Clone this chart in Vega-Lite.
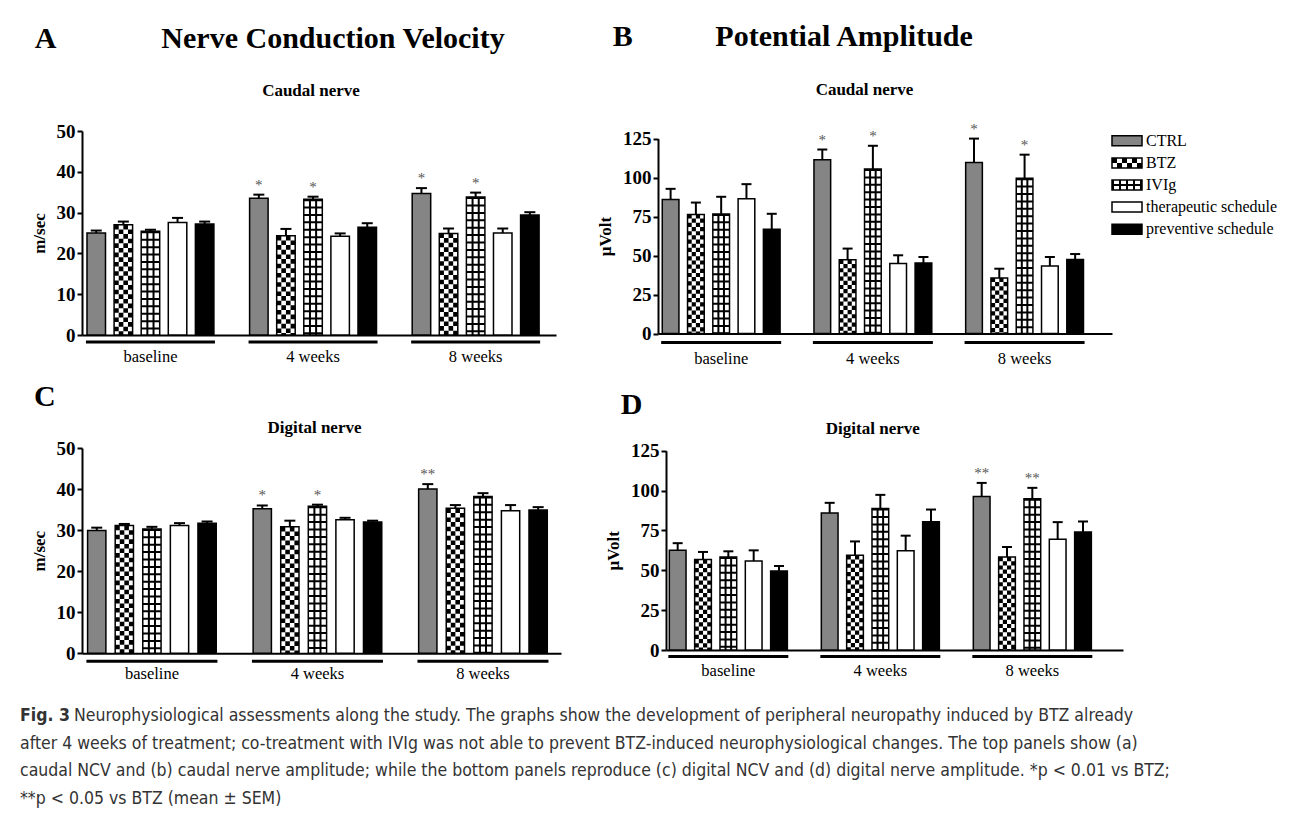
{
  "$schema": "https://vega.github.io/schema/vega-lite/v6.json",
  "background": "white",
  "padding": {"left": 20, "top": 22, "right": 0, "bottom": 0},
  "spacing": 24,
  "vconcat": [
    {
      "spacing": 13,
      "vconcat": [
        {
          "spacing": 40,
          "hconcat": [
            {
              "title": {"text": "A\u00a0\u00a0\u00a0\u00a0\u00a0\u00a0\u00a0\u00a0\u00a0\u00a0\u00a0\u00a0\u00a0\u00a0Nerve Conduction Velocity", "anchor": "start", "frame": "bounds", "dx": 4.7, "offset": 4, "baseline": "alphabetic", "fontSize": 30, "fontWeight": "bold", "font": "Liberation Serif", "color": "black"},
              "vconcat": [
                {
                  "width": 474, "height": 204,
                  "title": {"text": "Caudal nerve", "anchor": "middle", "frame": "group", "dx": -8, "offset": 9.2, "baseline": "alphabetic", "fontSize": 17, "fontWeight": "bold", "font": "Liberation Serif", "color": "black"},
                  "data": {"values": [
                    {"bar": "baseline|CTRL", "group": "CTRL", "mean": 25.0, "hi": 25.6, "sig": ""},
                    {"bar": "baseline|BTZ", "group": "BTZ", "mean": 27.0, "hi": 27.8, "sig": ""},
                    {"bar": "baseline|IVIg", "group": "IVIg", "mean": 25.4, "hi": 25.8, "sig": ""},
                    {"bar": "baseline|ther", "group": "ther", "mean": 27.6, "hi": 28.7, "sig": ""},
                    {"bar": "baseline|prev", "group": "prev", "mean": 27.2, "hi": 27.8, "sig": ""},
                    {"bar": "4 weeks|CTRL", "group": "CTRL", "mean": 33.5, "hi": 34.4, "sig": "*"},
                    {"bar": "4 weeks|BTZ", "group": "BTZ", "mean": 24.3, "hi": 26.0, "sig": ""},
                    {"bar": "4 weeks|IVIg", "group": "IVIg", "mean": 33.3, "hi": 33.9, "sig": "*"},
                    {"bar": "4 weeks|ther", "group": "ther", "mean": 24.2, "hi": 24.9, "sig": ""},
                    {"bar": "4 weeks|prev", "group": "prev", "mean": 26.4, "hi": 27.4, "sig": ""},
                    {"bar": "8 weeks|CTRL", "group": "CTRL", "mean": 34.7, "hi": 36.0, "sig": "*"},
                    {"bar": "8 weeks|BTZ", "group": "BTZ", "mean": 24.9, "hi": 26.1, "sig": ""},
                    {"bar": "8 weeks|IVIg", "group": "IVIg", "mean": 33.8, "hi": 34.9, "sig": "*"},
                    {"bar": "8 weeks|ther", "group": "ther", "mean": 25.0, "hi": 26.1, "sig": ""},
                    {"bar": "8 weeks|prev", "group": "prev", "mean": 29.4, "hi": 30.1, "sig": ""}
                  ]},
                  "encoding": {
                    "x": {"field": "bar", "type": "nominal", "scale": {"domain": ["baseline|CTRL", "baseline|BTZ", "baseline|IVIg", "baseline|ther", "baseline|prev", "gap1", "4 weeks|CTRL", "4 weeks|BTZ", "4 weeks|IVIg", "4 weeks|ther", "4 weeks|prev", "gap2", "8 weeks|CTRL", "8 weeks|BTZ", "8 weeks|IVIg", "8 weeks|ther", "8 weeks|prev"], "paddingInner": 0.317, "paddingOuter": 0.404, "align": 0.228, "round": false}, "axis": {"labels": false, "ticks": false, "title": null}}
                  },
                  "layer": [
                    {"mark": {"type": "bar"}, "encoding": {"y": {"field": "mean", "type": "quantitative", "scale": {"domain": [0, 50], "nice": false}, "axis": {"title": "m/sec", "values": [0, 10, 20, 30, 40, 50]}}, "fill": {"field": "group", "type": "nominal", "scale": {"domain": ["CTRL", "BTZ", "IVIg", "ther", "prev"], "range": ["#858585", "#ffffff", "#ffffff", "#ffffff", "#000000"]}, "legend": null}}},
                    {"transform": [{"filter": "datum.group === 'BTZ'"}], "mark": {"type": "rule", "color": "black", "strokeWidth": 4.63, "strokeDash": [4.63, 4.63], "strokeDashOffset": 0, "xOffset": -6.94}, "encoding": {"y": {"field": "mean", "type": "quantitative"}, "y2": {"datum": 0}}},
                    {"transform": [{"filter": "datum.group === 'BTZ'"}], "mark": {"type": "rule", "color": "black", "strokeWidth": 4.63, "strokeDash": [4.63, 4.63], "strokeDashOffset": 4.63, "xOffset": -2.31}, "encoding": {"y": {"field": "mean", "type": "quantitative"}, "y2": {"datum": 0}}},
                    {"transform": [{"filter": "datum.group === 'BTZ'"}], "mark": {"type": "rule", "color": "black", "strokeWidth": 4.63, "strokeDash": [4.63, 4.63], "strokeDashOffset": 0, "xOffset": 2.31}, "encoding": {"y": {"field": "mean", "type": "quantitative"}, "y2": {"datum": 0}}},
                    {"transform": [{"filter": "datum.group === 'BTZ'"}], "mark": {"type": "rule", "color": "black", "strokeWidth": 4.63, "strokeDash": [4.63, 4.63], "strokeDashOffset": 4.63, "xOffset": 6.94}, "encoding": {"y": {"field": "mean", "type": "quantitative"}, "y2": {"datum": 0}}},
                    {"transform": [{"filter": "datum.group === 'IVIg'"}], "mark": {"type": "rule", "color": "black", "strokeWidth": 18.5, "strokeDash": [2, 5.4]}, "encoding": {"y": {"field": "mean", "type": "quantitative"}, "y2": {"datum": 0}}},
                    {"transform": [{"filter": "datum.group === 'IVIg'"}], "mark": {"type": "rule", "color": "black", "strokeWidth": 2, "xOffset": -3.08}, "encoding": {"y": {"field": "mean", "type": "quantitative"}, "y2": {"datum": 0}}},
                    {"transform": [{"filter": "datum.group === 'IVIg'"}], "mark": {"type": "rule", "color": "black", "strokeWidth": 2, "xOffset": 3.08}, "encoding": {"y": {"field": "mean", "type": "quantitative"}, "y2": {"datum": 0}}},
                    {"mark": {"type": "bar", "fill": "white", "fillOpacity": 0, "stroke": "black", "strokeWidth": 1.5}, "encoding": {"y": {"field": "mean", "type": "quantitative"}}},
                    {"mark": {"type": "rule", "color": "black", "strokeWidth": 2}, "encoding": {"y": {"field": "mean", "type": "quantitative"}, "y2": {"field": "hi"}}},
                    {"mark": {"type": "tick", "color": "black", "opacity": 1, "size": 11, "thickness": 2}, "encoding": {"y": {"field": "hi", "type": "quantitative"}}},
                    {"transform": [{"filter": "datum.sig !== ''"}], "mark": {"type": "text", "baseline": "alphabetic", "dy": -5, "fontSize": 15, "color": "#555555", "fill": "#555555", "font": "Liberation Serif"}, "encoding": {"y": {"field": "hi", "type": "quantitative"}, "text": {"field": "sig"}}},
                    {"data": {"values": [{"bar": "baseline|IVIg", "label": "baseline"}, {"bar": "4 weeks|IVIg", "label": "4 weeks"}, {"bar": "8 weeks|IVIg", "label": "8 weeks"}]}, "mark": {"type": "tick", "color": "black", "opacity": 1, "size": 129, "thickness": 3, "yOffset": 7}, "encoding": {"y": {"datum": 0}}},
                    {"data": {"values": [{"bar": "baseline|IVIg", "label": "baseline"}, {"bar": "4 weeks|IVIg", "label": "4 weeks"}, {"bar": "8 weeks|IVIg", "label": "8 weeks"}]}, "mark": {"type": "text", "yOffset": 22, "baseline": "middle", "fontSize": 16.5, "font": "Liberation Serif", "color": "black", "fill": "black"}, "encoding": {"y": {"datum": 0}, "text": {"field": "label"}}}
                  ]
                }
              ]
            },
            {
              "title": {"text": "B\u00a0\u00a0\u00a0\u00a0\u00a0\u00a0\u00a0\u00a0\u00a0\u00a0\u00a0Potential Amplitude", "anchor": "start", "frame": "bounds", "dx": 16.3, "offset": 5, "baseline": "alphabetic", "fontSize": 30, "fontWeight": "bold", "font": "Liberation Serif", "color": "black"},
              "vconcat": [
                {
                  "spacing": -5,
                  "hconcat": [
                    {
                      "width": 454, "height": 202.6,
                      "title": {"text": "Caudal nerve", "anchor": "middle", "frame": "group", "dx": -20.5, "offset": 9.3, "baseline": "alphabetic", "fontSize": 17, "fontWeight": "bold", "font": "Liberation Serif", "color": "black"},
                      "data": {"values": [
                        {"bar": "baseline|CTRL", "group": "CTRL", "mean": 86.0, "hi": 92.8, "sig": ""},
                        {"bar": "baseline|BTZ", "group": "BTZ", "mean": 76.4, "hi": 84.0, "sig": ""},
                        {"bar": "baseline|IVIg", "group": "IVIg", "mean": 76.7, "hi": 87.7, "sig": ""},
                        {"bar": "baseline|ther", "group": "ther", "mean": 86.5, "hi": 95.8, "sig": ""},
                        {"bar": "baseline|prev", "group": "prev", "mean": 66.9, "hi": 76.8, "sig": ""},
                        {"bar": "4 weeks|CTRL", "group": "CTRL", "mean": 111.5, "hi": 118.0, "sig": "*"},
                        {"bar": "4 weeks|BTZ", "group": "BTZ", "mean": 47.3, "hi": 54.5, "sig": ""},
                        {"bar": "4 weeks|IVIg", "group": "IVIg", "mean": 105.5, "hi": 120.4, "sig": "*"},
                        {"bar": "4 weeks|ther", "group": "ther", "mean": 44.9, "hi": 50.2, "sig": ""},
                        {"bar": "4 weeks|prev", "group": "prev", "mean": 45.2, "hi": 49.1, "sig": ""},
                        {"bar": "8 weeks|CTRL", "group": "CTRL", "mean": 109.7, "hi": 125.0, "sig": "*"},
                        {"bar": "8 weeks|BTZ", "group": "BTZ", "mean": 35.7, "hi": 41.6, "sig": ""},
                        {"bar": "8 weeks|IVIg", "group": "IVIg", "mean": 99.6, "hi": 114.7, "sig": "*"},
                        {"bar": "8 weeks|ther", "group": "ther", "mean": 43.3, "hi": 49.1, "sig": ""},
                        {"bar": "8 weeks|prev", "group": "prev", "mean": 47.5, "hi": 51.0, "sig": ""}
                      ]},
                      "encoding": {
                        "x": {"field": "bar", "type": "nominal", "scale": {"domain": ["baseline|CTRL", "baseline|BTZ", "baseline|IVIg", "baseline|ther", "baseline|prev", "gap1", "4 weeks|CTRL", "4 weeks|BTZ", "4 weeks|IVIg", "4 weeks|ther", "4 weeks|prev", "gap2", "8 weeks|CTRL", "8 weeks|BTZ", "8 weeks|IVIg", "8 weeks|ther", "8 weeks|prev"], "paddingInner": 0.34, "paddingOuter": 0.648, "align": 0.13, "round": false}, "axis": {"labels": false, "ticks": false, "title": null}}
                      },
                      "layer": [
                        {"mark": {"type": "bar"}, "encoding": {"y": {"field": "mean", "type": "quantitative", "scale": {"domain": [0, 125], "nice": false, "range": [202.6, 7.6]}, "axis": {"title": "µVolt", "values": [0, 25, 50, 75, 100, 125]}}, "fill": {"field": "group", "type": "nominal", "scale": {"domain": ["CTRL", "BTZ", "IVIg", "ther", "prev"], "range": ["#858585", "#ffffff", "#ffffff", "#ffffff", "#000000"]}, "legend": null}}},
                        {"transform": [{"filter": "datum.group === 'BTZ'"}], "mark": {"type": "rule", "color": "black", "strokeWidth": 4.18, "strokeDash": [4.18, 4.18], "strokeDashOffset": 0, "xOffset": -6.26}, "encoding": {"y": {"field": "mean", "type": "quantitative"}, "y2": {"datum": 0}}},
                        {"transform": [{"filter": "datum.group === 'BTZ'"}], "mark": {"type": "rule", "color": "black", "strokeWidth": 4.18, "strokeDash": [4.18, 4.18], "strokeDashOffset": 4.18, "xOffset": -2.09}, "encoding": {"y": {"field": "mean", "type": "quantitative"}, "y2": {"datum": 0}}},
                        {"transform": [{"filter": "datum.group === 'BTZ'"}], "mark": {"type": "rule", "color": "black", "strokeWidth": 4.18, "strokeDash": [4.18, 4.18], "strokeDashOffset": 0, "xOffset": 2.09}, "encoding": {"y": {"field": "mean", "type": "quantitative"}, "y2": {"datum": 0}}},
                        {"transform": [{"filter": "datum.group === 'BTZ'"}], "mark": {"type": "rule", "color": "black", "strokeWidth": 4.18, "strokeDash": [4.18, 4.18], "strokeDashOffset": 4.18, "xOffset": 6.26}, "encoding": {"y": {"field": "mean", "type": "quantitative"}, "y2": {"datum": 0}}},
                        {"transform": [{"filter": "datum.group === 'IVIg'"}], "mark": {"type": "rule", "color": "black", "strokeWidth": 16.7, "strokeDash": [2, 5.4]}, "encoding": {"y": {"field": "mean", "type": "quantitative"}, "y2": {"datum": 0}}},
                        {"transform": [{"filter": "datum.group === 'IVIg'"}], "mark": {"type": "rule", "color": "black", "strokeWidth": 2, "xOffset": -2.78}, "encoding": {"y": {"field": "mean", "type": "quantitative"}, "y2": {"datum": 0}}},
                        {"transform": [{"filter": "datum.group === 'IVIg'"}], "mark": {"type": "rule", "color": "black", "strokeWidth": 2, "xOffset": 2.78}, "encoding": {"y": {"field": "mean", "type": "quantitative"}, "y2": {"datum": 0}}},
                        {"mark": {"type": "bar", "fill": "white", "fillOpacity": 0, "stroke": "black", "strokeWidth": 1.5}, "encoding": {"y": {"field": "mean", "type": "quantitative"}}},
                        {"mark": {"type": "rule", "color": "black", "strokeWidth": 2}, "encoding": {"y": {"field": "mean", "type": "quantitative"}, "y2": {"field": "hi"}}},
                        {"mark": {"type": "tick", "color": "black", "opacity": 1, "size": 10, "thickness": 2}, "encoding": {"y": {"field": "hi", "type": "quantitative"}}},
                        {"transform": [{"filter": "datum.sig !== ''"}], "mark": {"type": "text", "baseline": "alphabetic", "dy": -5, "fontSize": 15, "color": "#555555", "fill": "#555555", "font": "Liberation Serif"}, "encoding": {"y": {"field": "hi", "type": "quantitative"}, "text": {"field": "sig"}}},
                        {"data": {"values": [{"bar": "baseline|IVIg", "label": "baseline"}, {"bar": "4 weeks|IVIg", "label": "4 weeks"}, {"bar": "8 weeks|IVIg", "label": "8 weeks"}]}, "mark": {"type": "tick", "color": "black", "opacity": 1, "size": 120, "thickness": 3, "yOffset": 9}, "encoding": {"y": {"datum": 0}}},
                        {"data": {"values": [{"bar": "baseline|IVIg", "label": "baseline"}, {"bar": "4 weeks|IVIg", "label": "4 weeks"}, {"bar": "8 weeks|IVIg", "label": "8 weeks"}]}, "mark": {"type": "text", "yOffset": 25, "baseline": "middle", "fontSize": 16.5, "font": "Liberation Serif", "color": "black", "fill": "black"}, "encoding": {"y": {"datum": 0}, "text": {"field": "label"}}}
                      ]
                    },
                    {
                      "width": 30, "height": 108,
                      "data": {"values": [
                        {"group": "CTRL", "label": "CTRL"},
                        {"group": "BTZ", "label": "BTZ"},
                        {"group": "IVIg", "label": "IVIg"},
                        {"group": "ther", "label": "therapeutic schedule"},
                        {"group": "prev", "label": "preventive schedule"}
                      ]},
                      "encoding": {
                        "y": {"field": "group", "type": "nominal", "scale": {"type": "point", "domain": ["CTRL", "BTZ", "IVIg", "ther", "prev"], "padding": 0.443, "round": false}, "axis": null}
                      },
                      "layer": [
                        {"mark": {"type": "bar", "height": 10}, "encoding": {"x": {"datum": 0, "type": "quantitative", "scale": {"domain": [0, 1]}, "axis": null}, "x2": {"datum": 1}, "fill": {"field": "group", "type": "nominal", "scale": {"domain": ["CTRL", "BTZ", "IVIg", "ther", "prev"], "range": ["#858585", "#ffffff", "#ffffff", "#ffffff", "#000000"]}, "legend": null}}},
                        {"transform": [{"filter": "datum.group === 'BTZ'"}], "mark": {"type": "rule", "color": "black", "strokeWidth": 5, "strokeDash": [5, 5], "strokeDashOffset": 0, "yOffset": -2.5}, "encoding": {"x": {"datum": 0, "type": "quantitative"}, "x2": {"datum": 1}}},
                        {"transform": [{"filter": "datum.group === 'BTZ'"}], "mark": {"type": "rule", "color": "black", "strokeWidth": 5, "strokeDash": [5, 5], "strokeDashOffset": 5, "yOffset": 2.5}, "encoding": {"x": {"datum": 0, "type": "quantitative"}, "x2": {"datum": 1}}},
                        {"transform": [{"filter": "datum.group === 'IVIg'"}], "mark": {"type": "rule", "color": "black", "strokeWidth": 10, "strokeDash": [2, 5]}, "encoding": {"x": {"datum": 0, "type": "quantitative"}, "x2": {"datum": 1}}},
                        {"transform": [{"filter": "datum.group === 'IVIg'"}], "mark": {"type": "rule", "color": "black", "strokeWidth": 2}, "encoding": {"x": {"datum": 0, "type": "quantitative"}, "x2": {"datum": 1}}},
                        {"mark": {"type": "bar", "height": 10, "fill": "white", "fillOpacity": 0, "stroke": "black", "strokeWidth": 1.5}, "encoding": {"x": {"datum": 0, "type": "quantitative"}, "x2": {"datum": 1}}},
                        {"mark": {"type": "text", "align": "left", "dx": 4, "baseline": "middle", "fontSize": 16, "font": "Liberation Serif", "color": "black", "fill": "black"}, "encoding": {"x": {"datum": 1, "type": "quantitative"}, "text": {"field": "label"}}}
                      ]
                    }
                  ]
                }
              ]
            }
          ]
        },
        {
          "spacing": 43,
          "hconcat": [
            {
              "title": {"text": "C", "anchor": "start", "frame": "bounds", "dx": 4, "offset": -16.5, "baseline": "alphabetic", "fontSize": 30, "fontWeight": "bold", "font": "Liberation Serif", "color": "black"},
              "vconcat": [
                {
                  "width": 479, "height": 205.3,
                  "title": {"text": "Digital nerve", "anchor": "middle", "frame": "group", "dx": -7, "offset": -11, "baseline": "alphabetic", "fontSize": 17, "fontWeight": "bold", "font": "Liberation Serif", "color": "black"},
                  "data": {"values": [
                    {"bar": "baseline|CTRL", "group": "CTRL", "mean": 29.9, "hi": 30.6, "sig": ""},
                    {"bar": "baseline|BTZ", "group": "BTZ", "mean": 31.1, "hi": 31.5, "sig": ""},
                    {"bar": "baseline|IVIg", "group": "IVIg", "mean": 30.3, "hi": 30.8, "sig": ""},
                    {"bar": "baseline|ther", "group": "ther", "mean": 31.1, "hi": 31.7, "sig": ""},
                    {"bar": "baseline|prev", "group": "prev", "mean": 31.7, "hi": 32.1, "sig": ""},
                    {"bar": "4 weeks|CTRL", "group": "CTRL", "mean": 35.2, "hi": 36.0, "sig": "*"},
                    {"bar": "4 weeks|BTZ", "group": "BTZ", "mean": 30.8, "hi": 32.3, "sig": ""},
                    {"bar": "4 weeks|IVIg", "group": "IVIg", "mean": 35.8, "hi": 36.2, "sig": "*"},
                    {"bar": "4 weeks|ther", "group": "ther", "mean": 32.5, "hi": 33.0, "sig": ""},
                    {"bar": "4 weeks|prev", "group": "prev", "mean": 32.0, "hi": 32.3, "sig": ""},
                    {"bar": "8 weeks|CTRL", "group": "CTRL", "mean": 40.0, "hi": 41.2, "sig": "**"},
                    {"bar": "8 weeks|BTZ", "group": "BTZ", "mean": 35.3, "hi": 36.1, "sig": ""},
                    {"bar": "8 weeks|IVIg", "group": "IVIg", "mean": 38.2, "hi": 39.0, "sig": ""},
                    {"bar": "8 weeks|ther", "group": "ther", "mean": 34.7, "hi": 36.1, "sig": ""},
                    {"bar": "8 weeks|prev", "group": "prev", "mean": 34.9, "hi": 35.6, "sig": ""}
                  ]},
                  "encoding": {
                    "x": {"field": "bar", "type": "nominal", "scale": {"domain": ["baseline|CTRL", "baseline|BTZ", "baseline|IVIg", "baseline|ther", "baseline|prev", "gap1", "4 weeks|CTRL", "4 weeks|BTZ", "4 weeks|IVIg", "4 weeks|ther", "4 weeks|prev", "gap2", "8 weeks|CTRL", "8 weeks|BTZ", "8 weeks|IVIg", "8 weeks|ther", "8 weeks|prev"], "paddingInner": 0.337, "paddingOuter": 0.35, "align": 0.29, "round": false}, "axis": {"labels": false, "ticks": false, "title": null}}
                  },
                  "layer": [
                    {"mark": {"type": "bar"}, "encoding": {"y": {"field": "mean", "type": "quantitative", "scale": {"domain": [0, 50], "nice": false}, "axis": {"title": "m/sec", "values": [0, 10, 20, 30, 40, 50]}}, "fill": {"field": "group", "type": "nominal", "scale": {"domain": ["CTRL", "BTZ", "IVIg", "ther", "prev"], "range": ["#858585", "#ffffff", "#ffffff", "#ffffff", "#000000"]}, "legend": null}}},
                    {"transform": [{"filter": "datum.group === 'BTZ'"}], "mark": {"type": "rule", "color": "black", "strokeWidth": 4.58, "strokeDash": [4.58, 4.58], "strokeDashOffset": 0, "xOffset": -6.86}, "encoding": {"y": {"field": "mean", "type": "quantitative"}, "y2": {"datum": 0}}},
                    {"transform": [{"filter": "datum.group === 'BTZ'"}], "mark": {"type": "rule", "color": "black", "strokeWidth": 4.58, "strokeDash": [4.58, 4.58], "strokeDashOffset": 4.58, "xOffset": -2.29}, "encoding": {"y": {"field": "mean", "type": "quantitative"}, "y2": {"datum": 0}}},
                    {"transform": [{"filter": "datum.group === 'BTZ'"}], "mark": {"type": "rule", "color": "black", "strokeWidth": 4.58, "strokeDash": [4.58, 4.58], "strokeDashOffset": 0, "xOffset": 2.29}, "encoding": {"y": {"field": "mean", "type": "quantitative"}, "y2": {"datum": 0}}},
                    {"transform": [{"filter": "datum.group === 'BTZ'"}], "mark": {"type": "rule", "color": "black", "strokeWidth": 4.58, "strokeDash": [4.58, 4.58], "strokeDashOffset": 4.58, "xOffset": 6.86}, "encoding": {"y": {"field": "mean", "type": "quantitative"}, "y2": {"datum": 0}}},
                    {"transform": [{"filter": "datum.group === 'IVIg'"}], "mark": {"type": "rule", "color": "black", "strokeWidth": 18.3, "strokeDash": [2, 5.4]}, "encoding": {"y": {"field": "mean", "type": "quantitative"}, "y2": {"datum": 0}}},
                    {"transform": [{"filter": "datum.group === 'IVIg'"}], "mark": {"type": "rule", "color": "black", "strokeWidth": 2, "xOffset": -3.05}, "encoding": {"y": {"field": "mean", "type": "quantitative"}, "y2": {"datum": 0}}},
                    {"transform": [{"filter": "datum.group === 'IVIg'"}], "mark": {"type": "rule", "color": "black", "strokeWidth": 2, "xOffset": 3.05}, "encoding": {"y": {"field": "mean", "type": "quantitative"}, "y2": {"datum": 0}}},
                    {"mark": {"type": "bar", "fill": "white", "fillOpacity": 0, "stroke": "black", "strokeWidth": 1.5}, "encoding": {"y": {"field": "mean", "type": "quantitative"}}},
                    {"mark": {"type": "rule", "color": "black", "strokeWidth": 2}, "encoding": {"y": {"field": "mean", "type": "quantitative"}, "y2": {"field": "hi"}}},
                    {"mark": {"type": "tick", "color": "black", "opacity": 1, "size": 11, "thickness": 2}, "encoding": {"y": {"field": "hi", "type": "quantitative"}}},
                    {"transform": [{"filter": "datum.sig !== ''"}], "mark": {"type": "text", "baseline": "alphabetic", "dy": -5, "fontSize": 15, "color": "#555555", "fill": "#555555", "font": "Liberation Serif"}, "encoding": {"y": {"field": "hi", "type": "quantitative"}, "text": {"field": "sig"}}},
                    {"data": {"values": [{"bar": "baseline|IVIg", "label": "baseline"}, {"bar": "4 weeks|IVIg", "label": "4 weeks"}, {"bar": "8 weeks|IVIg", "label": "8 weeks"}]}, "mark": {"type": "tick", "color": "black", "opacity": 1, "size": 131, "thickness": 3, "yOffset": 8}, "encoding": {"y": {"datum": 0}}},
                    {"data": {"values": [{"bar": "baseline|IVIg", "label": "baseline"}, {"bar": "4 weeks|IVIg", "label": "4 weeks"}, {"bar": "8 weeks|IVIg", "label": "8 weeks"}]}, "mark": {"type": "text", "yOffset": 20.6, "baseline": "middle", "fontSize": 16.5, "font": "Liberation Serif", "color": "black", "fill": "black"}, "encoding": {"y": {"datum": 0}, "text": {"field": "label"}}}
                  ]
                }
              ]
            },
            {
              "title": {"text": "D", "anchor": "start", "frame": "bounds", "dx": 16.3, "offset": -23.5, "baseline": "alphabetic", "fontSize": 30, "fontWeight": "bold", "font": "Liberation Serif", "color": "black"},
              "vconcat": [
                {
                  "width": 457, "height": 202,
                  "title": {"text": "Digital nerve", "anchor": "middle", "frame": "group", "dx": -21.7, "offset": -9.5, "baseline": "alphabetic", "fontSize": 17, "fontWeight": "bold", "font": "Liberation Serif", "color": "black"},
                  "data": {"values": [
                    {"bar": "baseline|CTRL", "group": "CTRL", "mean": 62.5, "hi": 67.0, "sig": ""},
                    {"bar": "baseline|BTZ", "group": "BTZ", "mean": 56.7, "hi": 61.5, "sig": ""},
                    {"bar": "baseline|IVIg", "group": "IVIg", "mean": 58.3, "hi": 61.9, "sig": ""},
                    {"bar": "baseline|ther", "group": "ther", "mean": 55.8, "hi": 62.5, "sig": ""},
                    {"bar": "baseline|prev", "group": "prev", "mean": 49.6, "hi": 52.7, "sig": ""},
                    {"bar": "4 weeks|CTRL", "group": "CTRL", "mean": 86.0, "hi": 92.3, "sig": ""},
                    {"bar": "4 weeks|BTZ", "group": "BTZ", "mean": 59.4, "hi": 68.1, "sig": ""},
                    {"bar": "4 weeks|IVIg", "group": "IVIg", "mean": 88.7, "hi": 97.3, "sig": ""},
                    {"bar": "4 weeks|ther", "group": "ther", "mean": 62.3, "hi": 71.7, "sig": ""},
                    {"bar": "4 weeks|prev", "group": "prev", "mean": 80.4, "hi": 88.1, "sig": ""},
                    {"bar": "8 weeks|CTRL", "group": "CTRL", "mean": 96.2, "hi": 104.8, "sig": "**"},
                    {"bar": "8 weeks|BTZ", "group": "BTZ", "mean": 58.3, "hi": 64.6, "sig": ""},
                    {"bar": "8 weeks|IVIg", "group": "IVIg", "mean": 94.8, "hi": 101.7, "sig": "**"},
                    {"bar": "8 weeks|ther", "group": "ther", "mean": 69.4, "hi": 80.2, "sig": ""},
                    {"bar": "8 weeks|prev", "group": "prev", "mean": 74.0, "hi": 80.6, "sig": ""}
                  ]},
                  "encoding": {
                    "x": {"field": "bar", "type": "nominal", "scale": {"domain": ["baseline|CTRL", "baseline|BTZ", "baseline|IVIg", "baseline|ther", "baseline|prev", "gap1", "4 weeks|CTRL", "4 weeks|BTZ", "4 weeks|IVIg", "4 weeks|ther", "4 weeks|prev", "gap2", "8 weeks|CTRL", "8 weeks|BTZ", "8 weeks|IVIg", "8 weeks|ther", "8 weeks|prev"], "paddingInner": 0.34, "paddingOuter": 0.69, "align": 0.095, "round": false}, "axis": {"labels": false, "ticks": false, "title": null}}
                  },
                  "layer": [
                    {"mark": {"type": "bar"}, "encoding": {"y": {"field": "mean", "type": "quantitative", "scale": {"domain": [0, 125], "nice": false, "range": [202, 2.7]}, "axis": {"title": "µVolt", "values": [0, 25, 50, 75, 100, 125]}}, "fill": {"field": "group", "type": "nominal", "scale": {"domain": ["CTRL", "BTZ", "IVIg", "ther", "prev"], "range": ["#858585", "#ffffff", "#ffffff", "#ffffff", "#000000"]}, "legend": null}}},
                    {"transform": [{"filter": "datum.group === 'BTZ'"}], "mark": {"type": "rule", "color": "black", "strokeWidth": 4.18, "strokeDash": [4.18, 4.18], "strokeDashOffset": 0, "xOffset": -6.26}, "encoding": {"y": {"field": "mean", "type": "quantitative"}, "y2": {"datum": 0}}},
                    {"transform": [{"filter": "datum.group === 'BTZ'"}], "mark": {"type": "rule", "color": "black", "strokeWidth": 4.18, "strokeDash": [4.18, 4.18], "strokeDashOffset": 4.18, "xOffset": -2.09}, "encoding": {"y": {"field": "mean", "type": "quantitative"}, "y2": {"datum": 0}}},
                    {"transform": [{"filter": "datum.group === 'BTZ'"}], "mark": {"type": "rule", "color": "black", "strokeWidth": 4.18, "strokeDash": [4.18, 4.18], "strokeDashOffset": 0, "xOffset": 2.09}, "encoding": {"y": {"field": "mean", "type": "quantitative"}, "y2": {"datum": 0}}},
                    {"transform": [{"filter": "datum.group === 'BTZ'"}], "mark": {"type": "rule", "color": "black", "strokeWidth": 4.18, "strokeDash": [4.18, 4.18], "strokeDashOffset": 4.18, "xOffset": 6.26}, "encoding": {"y": {"field": "mean", "type": "quantitative"}, "y2": {"datum": 0}}},
                    {"transform": [{"filter": "datum.group === 'IVIg'"}], "mark": {"type": "rule", "color": "black", "strokeWidth": 16.7, "strokeDash": [2, 5.4]}, "encoding": {"y": {"field": "mean", "type": "quantitative"}, "y2": {"datum": 0}}},
                    {"transform": [{"filter": "datum.group === 'IVIg'"}], "mark": {"type": "rule", "color": "black", "strokeWidth": 2, "xOffset": -2.78}, "encoding": {"y": {"field": "mean", "type": "quantitative"}, "y2": {"datum": 0}}},
                    {"transform": [{"filter": "datum.group === 'IVIg'"}], "mark": {"type": "rule", "color": "black", "strokeWidth": 2, "xOffset": 2.78}, "encoding": {"y": {"field": "mean", "type": "quantitative"}, "y2": {"datum": 0}}},
                    {"mark": {"type": "bar", "fill": "white", "fillOpacity": 0, "stroke": "black", "strokeWidth": 1.5}, "encoding": {"y": {"field": "mean", "type": "quantitative"}}},
                    {"mark": {"type": "rule", "color": "black", "strokeWidth": 2}, "encoding": {"y": {"field": "mean", "type": "quantitative"}, "y2": {"field": "hi"}}},
                    {"mark": {"type": "tick", "color": "black", "opacity": 1, "size": 10, "thickness": 2}, "encoding": {"y": {"field": "hi", "type": "quantitative"}}},
                    {"transform": [{"filter": "datum.sig !== ''"}], "mark": {"type": "text", "baseline": "alphabetic", "dy": -5, "fontSize": 15, "color": "#555555", "fill": "#555555", "font": "Liberation Serif"}, "encoding": {"y": {"field": "hi", "type": "quantitative"}, "text": {"field": "sig"}}},
                    {"data": {"values": [{"bar": "baseline|IVIg", "label": "baseline"}, {"bar": "4 weeks|IVIg", "label": "4 weeks"}, {"bar": "8 weeks|IVIg", "label": "8 weeks"}]}, "mark": {"type": "tick", "color": "black", "opacity": 1, "size": 120, "thickness": 3, "yOffset": 6.4}, "encoding": {"y": {"datum": 0}}},
                    {"data": {"values": [{"bar": "baseline|IVIg", "label": "baseline"}, {"bar": "4 weeks|IVIg", "label": "4 weeks"}, {"bar": "8 weeks|IVIg", "label": "8 weeks"}]}, "mark": {"type": "text", "yOffset": 20.7, "baseline": "middle", "fontSize": 16.5, "font": "Liberation Serif", "color": "black", "fill": "black"}, "encoding": {"y": {"datum": 0}, "text": {"field": "label"}}}
                  ]
                }
              ]
            }
          ]
        }
      ]
    },
    {
      "width": 1150, "height": 83,
      "data": {"values": [
        {"line": 1, "part": "fig", "text": "Fig. 3"},
        {"line": 1, "part": "body", "text": "Neurophysiological assessments along the study. The graphs show the development of peripheral neuropathy induced by BTZ already"},
        {"line": 2, "part": "body", "text": "after 4 weeks of treatment; co-treatment with IVIg was not able to prevent BTZ-induced neurophysiological changes. The top panels show (a)"},
        {"line": 3, "part": "body", "text": "caudal NCV and (b) caudal nerve amplitude; while the bottom panels reproduce (c) digital NCV and (d) digital nerve amplitude. *p < 0.01 vs BTZ;"},
        {"line": 4, "part": "body", "text": "**p < 0.05 vs BTZ (mean ± SEM)"}
      ]},
      "encoding": {
        "x": {"datum": 0, "type": "quantitative", "scale": {"domain": [0, 1]}, "axis": null},
        "y": {"field": "line", "type": "ordinal", "scale": {"type": "point", "padding": 0}, "axis": null}
      },
      "layer": [
        {"transform": [{"filter": "datum.part === 'fig'"}], "mark": {"type": "text", "align": "left", "baseline": "middle", "dx": -62, "font": "DejaVu Sans Condensed, Liberation Sans Narrow, Liberation Sans", "fontSize": 17.5, "fontWeight": "bold", "color": "#333333", "fill": "#333333"}, "encoding": {"text": {"field": "text"}}},
        {"transform": [{"filter": "datum.part === 'body' && datum.line === 1"}], "mark": {"type": "text", "align": "left", "baseline": "middle", "dx": -8, "font": "DejaVu Sans Condensed, Liberation Sans Narrow, Liberation Sans", "fontSize": 17.5, "color": "#333333", "fill": "#333333"}, "encoding": {"text": {"field": "text"}}},
        {"transform": [{"filter": "datum.line > 1"}], "mark": {"type": "text", "align": "left", "baseline": "middle", "dx": -62, "font": "DejaVu Sans Condensed, Liberation Sans Narrow, Liberation Sans", "fontSize": 17.5, "color": "#333333", "fill": "#333333"}, "encoding": {"text": {"field": "text"}}}
      ]
    }
  ],
  "config": {
    "view": {"stroke": null},
    "axis": {"domainColor": "black", "domainWidth": 2, "tickColor": "black", "tickWidth": 2, "tickSize": 5, "labelFont": "Liberation Serif", "labelFontSize": 19, "labelFontWeight": "bold", "labelColor": "black", "labelPadding": 2, "labelOverlap": false, "titleFont": "Liberation Serif", "titleFontSize": 17, "titleFontWeight": "bold", "titleColor": "black", "titlePadding": 8, "grid": false}
  }
}
